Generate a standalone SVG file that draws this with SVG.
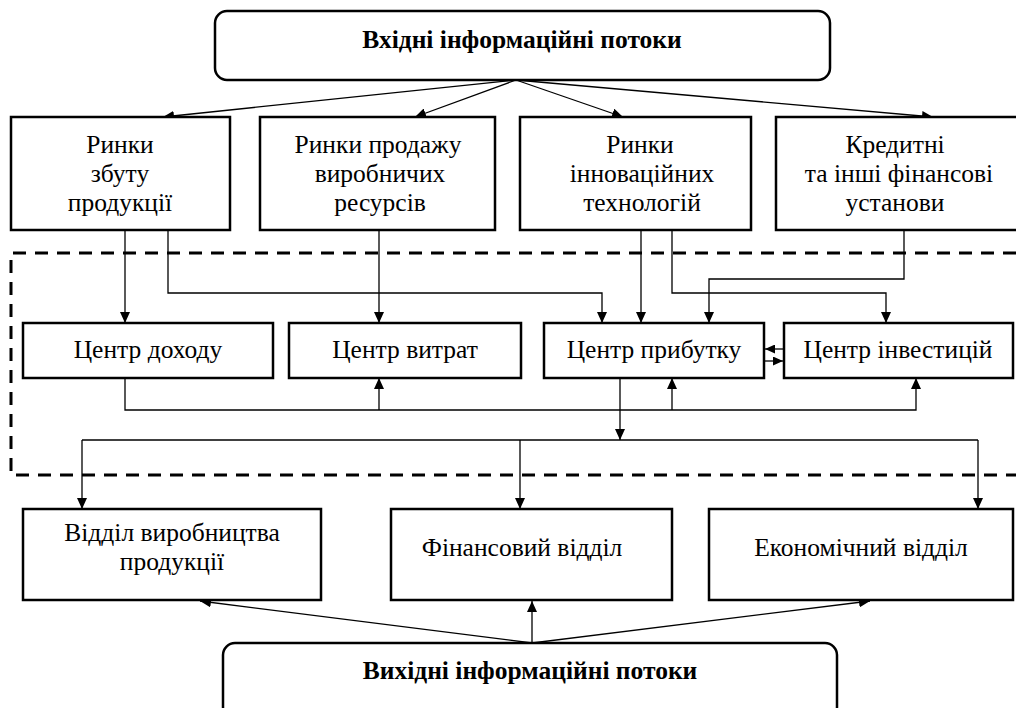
<svg xmlns="http://www.w3.org/2000/svg" width="1016" height="708" viewBox="0 0 1016 708">
  <style>
    .box { fill: #fff; stroke: #000; stroke-width: 2.5; }
    .lbl { font-family: "Liberation Serif", "Times New Roman", serif; font-size: 25.5px; fill: #000; text-anchor: middle; }
    .ttl { font-family: "Liberation Serif", "Times New Roman", serif; font-size: 25.5px; font-weight: bold; fill: #000; text-anchor: middle; }
    .ln { fill: none; stroke: #000; stroke-width: 1.3; }
    .arr { marker-end: url(#ah); }
    .zone { fill: none; stroke: #000; stroke-width: 3; stroke-dasharray: 13 9; }
  </style>
  <defs>
    <marker id="ah" markerUnits="userSpaceOnUse" markerWidth="11" markerHeight="10" refX="11" refY="5" orient="auto">
      <path d="M0,0 L11,5 L0,10 Z" fill="#000"/>
    </marker>
    <marker id="ahs" markerUnits="userSpaceOnUse" markerWidth="10" markerHeight="9" refX="10" refY="4.5" orient="auto">
      <path d="M0,0 L10,4.5 L0,9 Z" fill="#000"/>
    </marker>
  </defs>

  <rect width="1016" height="708" fill="#fff"/>

  <!-- responsibility-centre zone -->
  <path class="zone" d="M1016,253 H11 V475 H1016"/>

  <!-- connectors -->
  <g id="connectors">
    <!-- incoming flows -->
    <line class="ln arr" x1="516" y1="80" x2="163" y2="117"/>
    <line class="ln arr" x1="516" y1="80" x2="415" y2="117"/>
    <line class="ln arr" x1="516" y1="80" x2="623" y2="117"/>
    <line class="ln arr" x1="516" y1="80" x2="933" y2="117"/>

    <!-- markets to centres -->
    <polyline class="ln arr" points="125,230 125,323"/>
    <polyline class="ln arr" points="168,230 168,293 602,293 602,323"/>
    <polyline class="ln arr" points="379,230 379,323"/>
    <polyline class="ln arr" points="641,230 641,323"/>
    <polyline class="ln arr" points="672,230 672,293 886,293 886,323"/>
    <polyline class="ln arr" points="904,230 904,279 709,279 709,323"/>

    <!-- feedback below centres -->
    <polyline class="ln arr" points="125,378 125,410 916,410 916,378"/>
    <polyline class="ln arr" points="379,410 379,378"/>
    <polyline class="ln arr" points="672,410 672,378"/>

    <!-- profit / investment exchange -->
    <line class="ln" x1="784" y1="349" x2="765" y2="349" marker-end="url(#ahs)"/>
    <line class="ln" x1="764" y1="361" x2="783" y2="361" marker-end="url(#ahs)"/>

    <!-- to departments -->
    <polyline class="ln arr" points="620,378 620,440"/>
    <line class="ln" x1="82" y1="440" x2="978" y2="440"/>
    <polyline class="ln arr" points="82,440 82,509"/>
    <polyline class="ln arr" points="520,440 520,509"/>
    <polyline class="ln arr" points="978,440 978,509"/>

    <!-- outgoing flows -->
    <line class="ln arr" x1="532" y1="643" x2="200" y2="601"/>
    <line class="ln arr" x1="532" y1="643" x2="532" y2="601"/>
    <line class="ln arr" x1="532" y1="643" x2="870" y2="601"/>
  </g>

  <g id="input-flows">
    <rect class="box" x="215" y="11" width="615" height="69" rx="12"/>
    <text class="ttl" x="522" y="48">Вхідні інформаційні потоки</text>
  </g>

  <g id="sales-markets">
    <rect class="box" x="11" y="117" width="219" height="113"/>
    <text class="lbl" x="120" y="153">Ринки</text>
    <text class="lbl" x="120" y="182">збуту</text>
    <text class="lbl" x="120" y="211">продукції</text>
  </g>

  <g id="resource-markets">
    <rect class="box" x="260" y="117" width="235" height="113"/>
    <text class="lbl" x="378" y="153">Ринки продажу</text>
    <text class="lbl" x="380" y="182">виробничих</text>
    <text class="lbl" x="380" y="211">ресурсів</text>
  </g>

  <g id="innovation-markets">
    <rect class="box" x="520" y="117" width="231" height="113"/>
    <text class="lbl" x="640" y="153">Ринки</text>
    <text class="lbl" x="642" y="182">інноваційних</text>
    <text class="lbl" x="642" y="211">технологій</text>
  </g>

  <g id="financial-institutions">
    <rect class="box" x="776" y="117" width="250" height="113"/>
    <text class="lbl" x="895" y="153">Кредитні</text>
    <text class="lbl" x="899" y="182">та інші фінансові</text>
    <text class="lbl" x="895" y="211">установи</text>
  </g>

  <g id="revenue-centre">
    <rect class="box" x="23" y="323" width="250" height="55"/>
    <text class="lbl" x="148" y="358">Центр доходу</text>
  </g>

  <g id="cost-centre">
    <rect class="box" x="289" y="323" width="232" height="55"/>
    <text class="lbl" x="405" y="358">Центр витрат</text>
  </g>

  <g id="profit-centre">
    <rect class="box" x="544" y="323" width="220" height="55"/>
    <text class="lbl" x="654" y="358">Центр прибутку</text>
  </g>

  <g id="investment-centre">
    <rect class="box" x="784" y="323" width="229" height="55"/>
    <text class="lbl" x="898" y="358">Центр інвестицій</text>
  </g>

  <g id="production-dept">
    <rect class="box" x="23" y="509" width="298" height="91"/>
    <text class="lbl" x="172" y="541">Відділ виробництва</text>
    <text class="lbl" x="172" y="570">продукції</text>
  </g>

  <g id="finance-dept">
    <rect class="box" x="391" y="509" width="281" height="91"/>
    <text class="lbl" x="522" y="556">Фінансовий відділ</text>
  </g>

  <g id="economics-dept">
    <rect class="box" x="709" y="509" width="304" height="91"/>
    <text class="lbl" x="861" y="556">Економічний відділ</text>
  </g>

  <g id="output-flows">
    <rect class="box" x="223" y="643" width="614" height="76" rx="12"/>
    <text class="ttl" x="530" y="679">Вихідні інформаційні потоки</text>
  </g>
</svg>
